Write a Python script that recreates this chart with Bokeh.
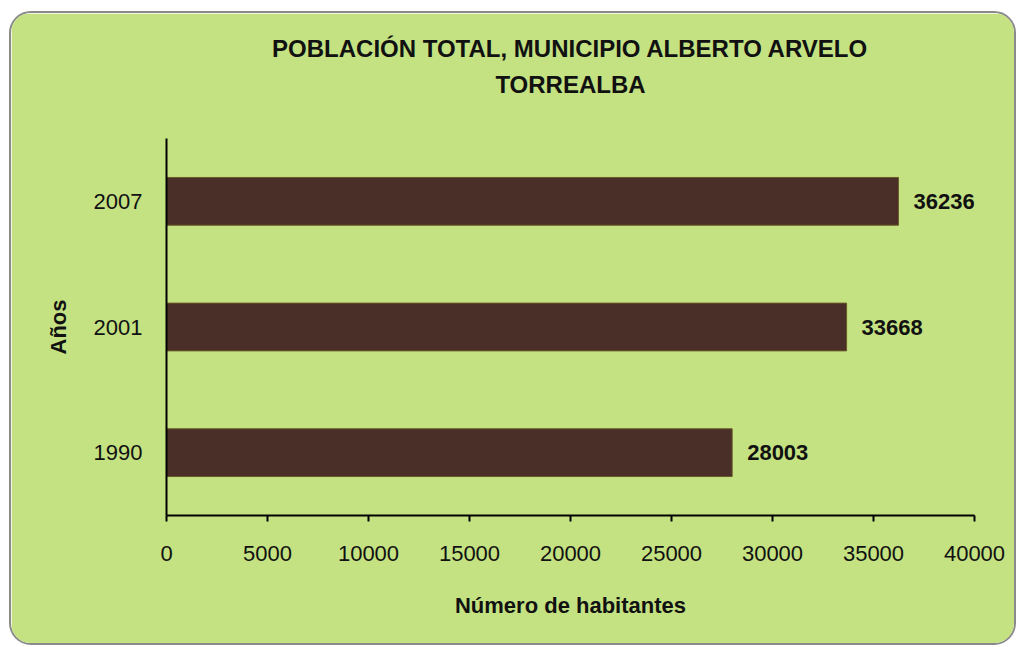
from bokeh.plotting import figure
from bokeh.models import (Range1d, FactorRange, ColumnDataSource, LabelSet, Title,
                          SingleIntervalTicker, NumeralTickFormatter)
from bokeh.embed import file_html
from bokeh.resources import INLINE
from bokeh.core.properties import value

years = ["1990", "2001", "2007"]
population = [28003, 33668, 36236]
pop_labels = [str(v) for v in population]
title_line1 = "POBLACIÓN TOTAL, MUNICIPIO ALBERTO ARVELO"
title_line2 = "TORREALBA"

GREEN = "#c4e282"
BAR = "#4a2f28"
FONT = "Liberation Sans"
INK = "#111111"

src = ColumnDataSource(dict(year=years, pop=population, lbl=pop_labels))

p = figure(width=1007, height=634, output_backend="svg", toolbar_location=None,
           y_range=FactorRange(*years), x_range=Range1d(0, 40000),
           min_border_left=155, min_border_right=44, min_border_top=125, min_border_bottom=132,
           background_fill_color=GREEN, border_fill_color=GREEN,
           outline_line_color=GREEN, outline_line_width=2)
p.styles = {"border-radius": "22px", "border": "2px solid #8a8a8a", "overflow": "hidden",
            "margin-left": "9px", "margin-top": "11px"}

p.hbar(y="year", right="pop", height=0.38, source=src, fill_color=BAR,
       line_color="#6b5a2a", line_width=1)

labels = LabelSet(x="pop", y="year", text="lbl", source=src, x_offset=15,
                  text_baseline="middle", text_font=value(FONT), text_font_style="bold",
                  text_font_size="22px", text_color=INK)
p.add_layout(labels)

p.xgrid.visible = False
p.ygrid.visible = False

xa = p.xaxis[0]
xa.ticker = SingleIntervalTicker(interval=5000)
xa.formatter = NumeralTickFormatter(format="0")
xa.axis_line_width = 2
xa.axis_line_color = "black"
xa.major_tick_line_width = 2
xa.major_tick_out = 6
xa.major_tick_in = 0
xa.minor_tick_line_color = None
xa.major_label_standoff = 24
xa.major_label_text_font = FONT
xa.major_label_text_font_size = "22px"
xa.major_label_text_color = INK
xa.axis_label = "Número de habitantes"
xa.axis_label_text_font = FONT
xa.axis_label_text_font_style = "bold"
xa.axis_label_text_font_size = "22px"
xa.axis_label_text_color = INK
xa.axis_label_standoff = 29

ya = p.yaxis[0]
ya.axis_line_width = 2
ya.axis_line_color = "black"
ya.major_tick_line_color = None
ya.minor_tick_line_color = None
ya.major_label_standoff = 18
ya.major_label_text_font = FONT
ya.major_label_text_font_size = "22px"
ya.major_label_text_color = INK
ya.axis_label = "Años"
ya.axis_label_text_font = FONT
ya.axis_label_text_font_style = "bold"
ya.axis_label_text_font_size = "22px"
ya.axis_label_text_color = INK
ya.axis_label_standoff = 20

p.title = None
# spacer between the title block and the plot frame
spacer = Title(text=" ", align="center", text_font=FONT, text_font_size="24px",
               text_color=GREEN, standoff=12)
p.add_layout(spacer, "above")
t2 = Title(text=title_line2, align="center", text_font=FONT, text_font_style="bold",
           text_font_size="24px", text_color=INK, standoff=0)
p.add_layout(t2, "above")
t1 = Title(text=title_line1, align="center", text_font=FONT, text_font_style="bold",
           text_font_size="24px", text_color=INK, standoff=14)
p.add_layout(t1, "above")

open("out.html", "w").write(file_html(p, INLINE))
